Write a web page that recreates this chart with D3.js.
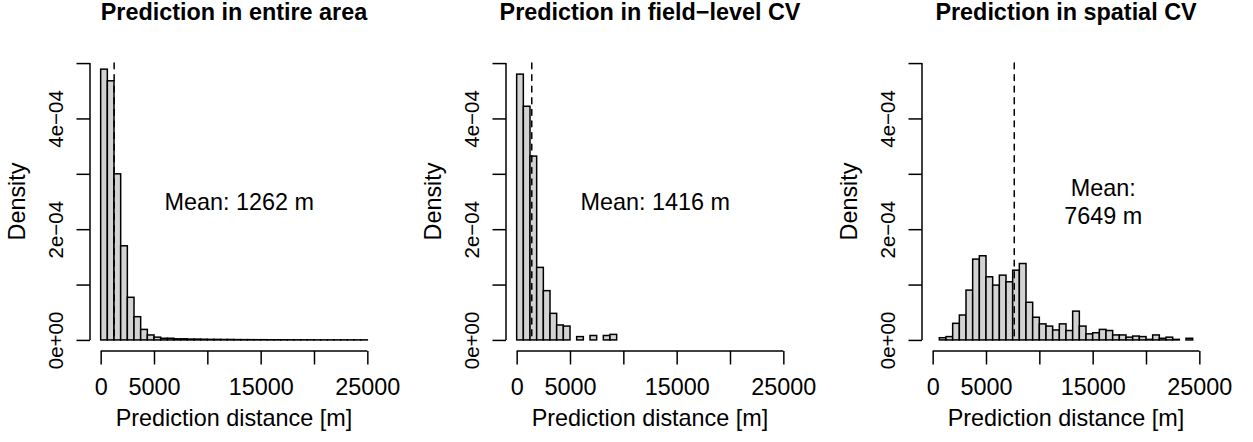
<!DOCTYPE html>
<html>
<head>
<meta charset="utf-8">
<script src="https://cdn.jsdelivr.net/npm/d3@7/dist/d3.min.js"></script>
<style>
  body { margin: 0; background: #fff; }
  svg text { font-family: "Liberation Sans", Arial, Helvetica, sans-serif; fill: #000; }
</style>
</head>
<body>
<svg id="chart" width="1253" height="442"></svg>
<script>
// Histogram of prediction distances: 40 bins of 625 m between 0 and 25000 m.
const binWidth = 625;

const panelTitles = [
  "Prediction in entire area",
  "Prediction in field\u2212level CV",
  "Prediction in spatial CV"
];

// Bin densities (per metre), one value per bin, left to right.
const densityEntire = [
  4.89e-4, 4.68e-4, 3.00e-4, 1.70e-4, 0.77e-4, 0.42e-4, 0.19e-4, 0.09e-4,
  0.05e-4, 0.03e-4, 0.03e-4, 0.02e-4, 0.02e-4, 0.015e-4, 0.015e-4, 0.012e-4,
  0.010e-4, 0.010e-4, 0.008e-4, 0.008e-4, 0.006e-4, 0.005e-4, 0.005e-4, 0.004e-4,
  0.004e-4, 0.003e-4, 0.003e-4, 0.003e-4, 0.002e-4, 0.002e-4, 0.002e-4, 0.002e-4,
  0.001e-4, 0.001e-4, 0.001e-4, 0.001e-4, 0.001e-4, 0.001e-4, 0.001e-4, 0.001e-4
];
const densityFieldCV = [
  4.80e-4, 4.22e-4, 3.32e-4, 1.31e-4, 0.89e-4, 0.48e-4, 0.27e-4, 0.25e-4,
  0, 0.06e-4, 0, 0.08e-4, 0, 0.08e-4, 0.10e-4, 0,
  0, 0, 0, 0, 0, 0, 0, 0,
  0, 0, 0, 0, 0, 0, 0, 0,
  0, 0, 0, 0, 0, 0, 0, 0
];
const densitySpatialCV = [
  0, 0.04e-4, 0.06e-4, 0.30e-4, 0.45e-4, 0.90e-4, 1.46e-4, 1.52e-4,
  1.14e-4, 0.99e-4, 1.17e-4, 1.05e-4, 1.26e-4, 1.38e-4, 0.68e-4, 0.41e-4,
  0.29e-4, 0.25e-4, 0.18e-4, 0.29e-4, 0.17e-4, 0.52e-4, 0.25e-4, 0.11e-4,
  0.13e-4, 0.19e-4, 0.17e-4, 0.09e-4, 0.09e-4, 0.05e-4, 0.07e-4, 0.06e-4,
  0.01e-4, 0.09e-4, 0.03e-4, 0.05e-4, 0.01e-4, 0, 0.03e-4, 0
];

const meanDistance = [1262, 1416, 7649];
const meanLabelLines = [["Mean: 1262 m"], ["Mean: 1416 m"], ["Mean:", "7649 m"]];

const xTickValues = [0, 5000, 10000, 15000, 20000, 25000];
const xTickLabels = ["0", "5000", "", "15000", "", "25000"];
const yTickValues = [0, 1e-4, 2e-4, 3e-4, 4e-4, 5e-4];
const yTickLabels = ["0e+00", "", "2e\u221204", "", "4e\u221204", ""];

const xTitle = "Prediction distance [m]";
const yTitle = "Density";

// ---- layout ----
const panelStep = 416;
const plot = { left: 90, right: 378, top: 52, bottom: 351 };
const xDomain = [-1000, 26000];
const yDomain = [-2e-5, 5.2e-4];
const fontSize = 23.4;
const yTickFontSize = 20.5;
const titleSize = 23.4;
const tickLen = 13.5;
const lineHeight = 28;
// annotation anchors in data units (centre of the text block)
const meanLabelAnchor = [[13000, 2.5e-4], [13000, 2.5e-4], [16000, 2.5e-4]];

const svg = d3.select("#chart");
const panels = [densityEntire, densityFieldCV, densitySpatialCV];

panels.forEach((dens, p) => {
  const g = svg.append("g").attr("transform", `translate(${p * panelStep},0)`);
  const x = d3.scaleLinear().domain(xDomain).range([plot.left, plot.right]);
  const y = d3.scaleLinear().domain(yDomain).range([plot.bottom, plot.top]);

  const bins = dens.map((d, i) => ({ x0: i * binWidth, x1: (i + 1) * binWidth, d }));

  // bars
  g.append("g").selectAll("rect").data(bins).join("rect")
    .attr("x", b => x(b.x0))
    .attr("width", b => x(b.x1) - x(b.x0))
    .attr("y", b => y(b.d))
    .attr("height", b => y(0) - y(b.d))
    .attr("fill", "#d3d3d3")
    .attr("stroke", "#000")
    .attr("stroke-width", 1.5);

  // mean line, drawn from the top of the density range down to zero
  g.append("line")
    .attr("x1", x(meanDistance[p])).attr("x2", x(meanDistance[p]))
    .attr("y1", y(yTickValues[yTickValues.length - 1])).attr("y2", y(0))
    .attr("stroke", "#000").attr("stroke-width", 1.5)
    .attr("stroke-linecap", "round")
    .attr("stroke-dasharray", "5.8,5.8");

  // x axis
  const xAxis = d3.axisBottom(x).tickValues(xTickValues)
    .tickFormat((d, i) => xTickLabels[i]).tickSize(tickLen);
  const gx = g.append("g").attr("transform", `translate(0,${plot.bottom})`).call(xAxis);
  gx.select(".domain").remove();
  gx.append("line").attr("x1", x(xTickValues[0])).attr("x2", x(xTickValues[xTickValues.length - 1]))
    .attr("stroke", "#000").attr("stroke-width", 1.5);
  gx.selectAll(".tick line").attr("stroke-width", 1.5);
  gx.selectAll(".tick text")
    .attr("font-size", fontSize).attr("font-family", null).attr("fill", "#000")
    .attr("dy", null).attr("y", 44);

  // y axis
  const yAxis = d3.axisLeft(y).tickValues(yTickValues)
    .tickFormat((d, i) => yTickLabels[i]).tickSize(tickLen);
  const gy = g.append("g").attr("transform", `translate(${plot.left},0)`).call(yAxis);
  gy.select(".domain").remove();
  gy.append("line").attr("y1", y(yTickValues[0])).attr("y2", y(yTickValues[yTickValues.length - 1]))
    .attr("stroke", "#000").attr("stroke-width", 1.5);
  gy.selectAll(".tick line").attr("stroke-width", 1.5);
  gy.selectAll(".tick text")
    .attr("font-size", yTickFontSize).attr("font-family", null).attr("fill", "#000")
    .attr("x", null).attr("dy", null)
    .attr("text-anchor", "middle")
    .attr("transform", `translate(${-lineHeight + 1},0) rotate(-90)`);

  // titles
  const cx = (plot.left + plot.right) / 2;
  g.append("text").attr("x", cx).attr("y", 20)
    .attr("text-anchor", "middle").attr("font-weight", "bold").attr("font-size", titleSize)
    .text(panelTitles[p]);
  g.append("text").attr("x", cx).attr("y", 426)
    .attr("text-anchor", "middle").attr("font-size", fontSize).text(xTitle);
  g.append("text")
    .attr("transform", `translate(${plot.left - 65},${(plot.top + plot.bottom) / 2}) rotate(-90)`)
    .attr("text-anchor", "middle").attr("font-size", fontSize).text(yTitle);

  // mean annotation, lines centred on the anchor
  const [ax, ay] = meanLabelAnchor[p];
  const lines = meanLabelLines[p];
  lines.forEach((t, k) => {
    const off = (k - (lines.length - 1) / 2) * lineHeight;
    g.append("text").attr("x", x(ax)).attr("y", y(ay) + off)
      .attr("dy", "0.35em").attr("text-anchor", "middle").attr("font-size", fontSize).text(t);
  });
});
</script>
</body>
</html>
